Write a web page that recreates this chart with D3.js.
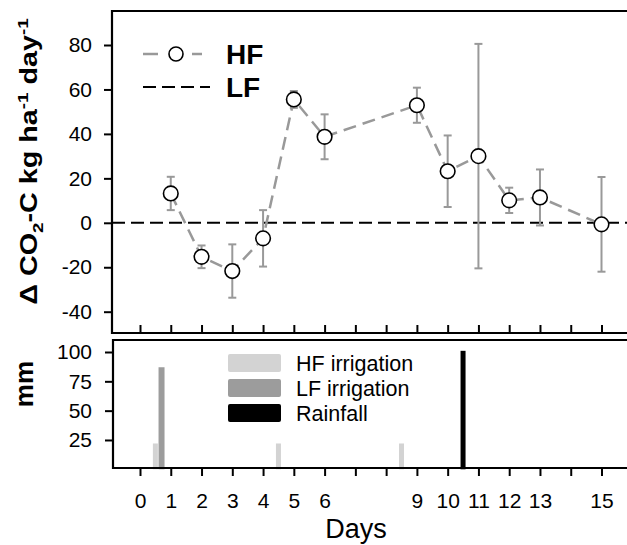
<!DOCTYPE html>
<html><head><meta charset="utf-8">
<script src="https://cdn.jsdelivr.net/npm/d3@7"></script>
<style>body{margin:0;background:#fff}svg{display:block}text{font-family:"Liberation Sans",Arial,sans-serif}</style>
</head><body>
<svg id="c" width="627" height="545"></svg>
<script>
// ---- data ----
const days = [1, 2, 3, 4, 5, 6, 9, 10, 11, 12, 13, 15];
const hfMean = [13.2, -15.3, -21.7, -7.0, 55.5, 38.7, 52.9, 23.2, 30.0, 10.1, 11.4, -0.7];
const hfErr = [7.5, 5.1, 12.0, 12.7, 3.8, 10.1, 7.9, 16.1, 50.5, 5.7, 12.6, 21.3];
const lfLevel = [0];
const xTickDays = d3.range(0, 16);
const xTickLabels = [0, 1, 2, 3, 4, 5, 6, 9, 10, 11, 12, 13, 15];
const yTicksTop = [-40, -20, 0, 20, 40, 60, 80];
const yTicksBottom = [25, 50, 75, 100];
const hfIrrDays = [0.5, 4.5, 8.5];
const hfIrrMm = [22, 22, 22];
const lfIrrDays = [0.7];
const lfIrrMm = [87];
const rainDays = [10.5];
const rainMm = [101];
const barLegend = ["HF irrigation", "LF irrigation", "Rainfall"];
const barColors = ["#d3d3d3", "#9c9c9c", "#000000"];

const svg = d3.select("#c");
const F = '"Liberation Sans",Arial,sans-serif';

// ---- scales ----
const x = d3.scaleLinear().domain([0, 15]).range([140, 601.5]);
const yT = d3.scaleLinear().domain([-40, 80]).range([311.7, 45]);
const yB = d3.scaleLinear().domain([0, 100]).range([469.3, 352]);
const topP = {l: 112, t: 11, b: 333};
const botP = {l: 113, t: 340, b: 468};

// ---- top panel ----
const gT = svg.append("g");
gT.append("line").attr("x1", topP.l).attr("x2", 640).attr("y1", yT(lfLevel[0])).attr("y2", yT(lfLevel[0]))
  .attr("stroke", "#000").attr("stroke-width", 2).attr("stroke-dasharray", "13,6");
const eb = gT.append("g").attr("stroke", "#999").attr("stroke-width", 2);
days.forEach((d, i) => {
  const cx = x(d), y1 = yT(hfMean[i] + hfErr[i]), y2 = yT(hfMean[i] - hfErr[i]);
  eb.append("line").attr("x1", cx).attr("x2", cx).attr("y1", y1).attr("y2", y2);
  eb.append("line").attr("x1", cx - 4).attr("x2", cx + 4).attr("y1", y1).attr("y2", y1);
  eb.append("line").attr("x1", cx - 4).attr("x2", cx + 4).attr("y1", y2).attr("y2", y2);
});
gT.append("path").datum(days.map((d, i) => [d, hfMean[i]]))
  .attr("fill", "none").attr("stroke", "#999").attr("stroke-width", 2.5).attr("stroke-dasharray", "13,7")
  .attr("d", d3.line().x(d => x(d[0])).y(d => yT(d[1])));
gT.selectAll("circle.p").data(days).join("circle")
  .attr("cx", d => x(d)).attr("cy", (d, i) => yT(hfMean[i])).attr("r", 7.3)
  .attr("fill", "#fff").attr("stroke", "#000").attr("stroke-width", 1.6);
const axL = gT.append("g").attr("transform", `translate(${topP.l},0)`)
  .call(d3.axisLeft(yT).tickValues(yTicksTop).tickSize(8).tickPadding(12).tickSizeOuter(0).tickFormat(d => String(d)));
axL.select(".domain").remove();
axL.selectAll("line").attr("stroke-width", 2);
axL.selectAll("text").attr("font-size", 21).attr("font-family", F).attr("fill", "#000");
const axTB = gT.append("g").attr("transform", `translate(0,${topP.b})`)
  .call(d3.axisTop(x).tickValues(xTickDays).tickSize(8).tickFormat(""));
axTB.select(".domain").remove();
axTB.selectAll("line").attr("stroke-width", 2);
gT.append("path").attr("d", `M640,${topP.t}H${topP.l}V${topP.b}H640`).attr("fill", "none").attr("stroke", "#000").attr("stroke-width", 2.2);
const lg = gT.append("g");
lg.append("line").attr("x1", 143).attr("x2", 158).attr("y1", 54).attr("y2", 54).attr("stroke", "#999").attr("stroke-width", 2.5);
lg.append("line").attr("x1", 192).attr("x2", 202).attr("y1", 54).attr("y2", 54).attr("stroke", "#999").attr("stroke-width", 2.5);
lg.append("circle").attr("cx", 176).attr("cy", 54).attr("r", 7).attr("fill", "#fff").attr("stroke", "#000").attr("stroke-width", 1.6);
lg.append("line").attr("x1", 143).attr("x2", 210).attr("y1", 87).attr("y2", 87).attr("stroke", "#000").attr("stroke-width", 2).attr("stroke-dasharray", "13,6");
lg.append("text").attr("x", 226).attr("y", 63.5).attr("font-size", 28).attr("font-weight", "bold").text("HF");
lg.append("text").attr("x", 226).attr("y", 96.5).attr("font-size", 28).attr("font-weight", "bold").text("LF");
const yt = gT.append("text").attr("transform", "translate(37,161.5) rotate(-90) scale(1.25,1)").attr("text-anchor", "middle")
  .attr("font-size", 23).attr("font-weight", "bold");
yt.append("tspan").text("Δ CO");
yt.append("tspan").attr("font-size", 15).attr("dy", 6).text("2");
yt.append("tspan").attr("dy", -6).text("-C kg ha");
yt.append("tspan").attr("font-size", 15).attr("dy", -9).text("-1");
yt.append("tspan").attr("dy", 9).text(" day");
yt.append("tspan").attr("font-size", 15).attr("dy", -9).text("-1");

// ---- bottom panel ----
const gB = svg.append("g");
function bars(ds, vs, color, w) {
  gB.append("g").selectAll("rect").data(ds).join("rect")
    .attr("x", d => x(d) - w / 2).attr("width", w)
    .attr("y", (d, i) => yB(vs[i])).attr("height", (d, i) => yB(0) - yB(vs[i]))
    .attr("fill", color);
}
bars(hfIrrDays, hfIrrMm, barColors[0], 5);
bars(lfIrrDays, lfIrrMm, barColors[1], 6);
bars(rainDays, rainMm, barColors[2], 5);
const axBL = gB.append("g").attr("transform", `translate(${botP.l},0)`)
  .call(d3.axisLeft(yB).tickValues(yTicksBottom).tickSize(8).tickPadding(13));
axBL.select(".domain").remove();
axBL.selectAll("line").attr("stroke-width", 2);
axBL.selectAll("text").attr("font-size", 21).attr("font-family", F).attr("fill", "#000");
const axBB = gB.append("g").attr("transform", `translate(0,${botP.b})`)
  .call(d3.axisBottom(x).tickValues(xTickDays).tickSize(8).tickPadding(17)
    .tickFormat(d => xTickLabels.includes(d) ? d : ""));
axBB.select(".domain").remove();
axBB.selectAll("line").attr("stroke-width", 2);
axBB.selectAll("text").attr("font-size", 21).attr("font-family", F).attr("fill", "#000");
gB.append("path").attr("d", `M640,${botP.t}H${botP.l}V${botP.b}H640`).attr("fill", "none").attr("stroke", "#000").attr("stroke-width", 2.2);
barLegend.forEach((t, i) => {
  gB.append("rect").attr("x", 228).attr("y", 354 + i * 25).attr("width", 53).attr("height", 18).attr("rx", 2).attr("fill", barColors[i]);
  gB.append("text").attr("x", 296).attr("y", 371 + i * 25).attr("font-size", 21.5).text(t);
});
gB.append("text").attr("transform", "translate(32.5,384) rotate(-90)").attr("text-anchor", "middle")
  .attr("font-size", 26).attr("font-weight", "bold").text("mm");
gB.append("text").attr("x", 356).attr("y", 538).attr("text-anchor", "middle").attr("font-size", 27).text("Days");
</script>
</body></html>
